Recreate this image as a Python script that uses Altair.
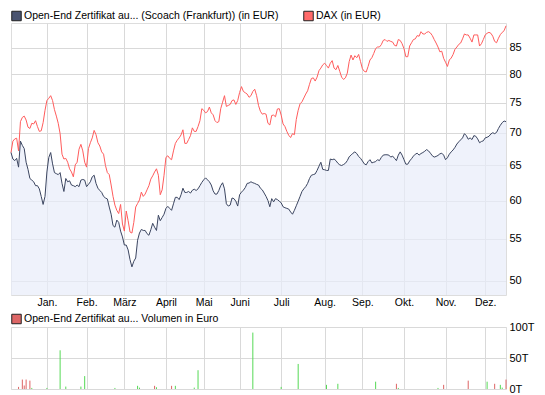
import json
import altair as alt
import pandas as pd

# ---------------- data ----------------
cert_name = "Open-End Zertifikat au... (Scoach (Frankfurt)) (in EUR)"
dax_name = "DAX (in EUR)"
vol_name = "Open-End Zertifikat au... Volumen in Euro"

# one value per trading day (index 0 .. 262)
cert = [
    66.94, 65.96, 65.72, 66.06, 64.75, 68.70, 68.04, 67.54, 65.48, 64.42,
    63.10, 62.87, 62.63, 62.08, 62.08, 61.63, 60.58, 59.48, 60.58, 64.04,
    66.20, 66.94, 65.24, 63.95, 63.80, 63.66, 63.95, 62.40, 61.26, 63.10,
    62.63, 62.77, 62.17, 62.08, 61.94, 62.17, 61.94, 62.87, 62.96, 62.87,
    61.94, 62.26, 62.63, 63.34, 63.57, 62.40, 61.72, 61.40, 61.13, 60.58,
    60.36, 60.23, 59.13, 58.17, 56.69, 56.48, 57.40, 57.10, 55.98, 55.24,
    54.23, 54.23, 53.63, 52.45, 51.60, 52.26, 52.65, 54.83, 55.73, 56.19,
    56.06, 56.06, 55.65, 55.45, 56.15, 56.98, 56.48, 56.06, 58.04, 57.32,
    57.74, 58.17, 58.95, 59.22, 58.95, 58.69, 59.57, 60.45, 60.45, 60.14,
    60.81, 61.72, 61.13, 61.13, 61.26, 61.04, 61.44, 61.58, 61.40, 61.63,
    62.08, 62.54, 62.91, 63.19, 62.91, 62.63, 62.17, 61.35, 60.90, 60.90,
    61.40, 62.08, 62.49, 61.63, 59.57, 59.26, 59.39, 60.36, 60.27, 59.92,
    59.26, 60.81, 61.17, 61.44, 61.81, 62.40, 62.45, 62.63, 62.49, 62.40,
    62.26, 62.17, 61.72, 61.49, 61.04, 60.58, 60.01, 59.17, 60.27, 59.83,
    60.27, 60.14, 59.92, 59.70, 59.17, 59.04, 58.95, 58.86, 58.47, 58.17,
    58.69, 59.30, 59.92, 60.58, 61.26, 61.63, 61.94, 62.40, 63.10, 63.57,
    63.66, 63.76, 64.27, 64.89, 65.48, 64.42, 64.37, 64.27, 64.27, 65.96,
    65.86, 65.96, 65.72, 65.33, 65.09, 64.99, 65.14, 65.33, 65.72, 66.30,
    66.55, 66.84, 67.04, 66.79, 66.35, 66.06, 65.67, 65.24, 65.09, 65.57,
    65.86, 65.38, 65.48, 65.57, 65.86, 65.72, 66.20, 66.55, 66.60, 66.60,
    66.55, 66.25, 66.40, 66.06, 65.72, 66.55, 67.04, 66.55, 65.86, 65.19,
    65.19, 65.67, 66.01, 66.40, 66.69, 66.84, 66.55, 66.79, 66.94, 67.14,
    67.39, 67.19, 66.84, 66.45, 66.25, 66.35, 66.50, 66.74, 66.84, 66.55,
    65.86, 66.15, 66.69, 67.04, 67.34, 67.74, 68.25, 68.60, 68.90, 69.21,
    69.88, 69.57, 69.00, 69.21, 68.95, 69.57, 69.47, 69.05, 68.45, 68.65,
    68.75, 69.21, 69.31, 69.47, 69.83, 70.03, 69.88, 70.08, 70.71, 71.23,
    71.66, 71.92, 71.82,
]

dax = [
    66.94, 68.70, 69.05, 69.16, 67.19, 71.82, 72.51, 72.73, 72.08, 70.92,
    70.71, 71.55, 71.44, 71.97, 71.02, 70.24, 70.34, 71.66, 73.70, 75.35,
    75.74, 76.19, 75.35, 73.81, 72.73, 71.55, 69.88, 66.69, 65.96, 66.06,
    65.48, 64.51, 64.04, 63.34, 65.09, 65.48, 67.44, 68.20, 67.19, 65.48,
    64.75, 67.54, 68.45, 69.21, 70.40, 69.72, 68.45, 67.94, 67.04, 66.69,
    64.99, 63.95, 63.66, 62.17, 60.58, 59.39, 58.69, 58.26, 59.48, 56.89,
    55.98, 58.60, 57.32, 55.86, 55.73, 57.10, 59.13, 59.61, 60.10, 61.17,
    60.58, 60.90, 61.49, 62.08, 63.01, 63.48, 64.04, 64.51, 63.57, 60.81,
    61.49, 63.57, 66.20, 66.45, 66.06, 65.86, 67.19, 68.35, 68.85, 69.21,
    69.68, 70.50, 68.35, 68.35, 68.95, 69.57, 70.81, 70.24, 70.24, 71.02,
    71.97, 73.97, 73.70, 73.27, 73.48, 74.24, 73.27, 72.94, 71.97, 71.66,
    71.82, 73.97, 75.07, 76.19, 74.35, 74.52, 74.69, 75.35, 75.46, 74.69,
    75.35, 76.75, 77.78, 76.93, 76.70, 76.47, 75.91, 76.19, 76.93, 77.32,
    76.19, 74.52, 73.54, 73.05, 73.16, 73.05, 71.55, 71.28, 72.84, 72.89,
    72.62, 73.92, 73.97, 72.89, 71.44, 71.02, 70.24, 69.62, 69.26, 69.88,
    69.72, 72.19, 73.70, 74.80, 75.13, 75.80, 76.47, 77.04, 78.19, 79.23,
    79.35, 78.77, 79.47, 80.65, 81.13, 81.73, 82.03, 81.61, 81.13, 82.03,
    82.52, 81.13, 80.83, 81.61, 80.53, 79.47, 79.06, 79.35, 80.20, 82.34,
    83.57, 82.64, 83.45, 83.07, 83.69, 82.34, 81.01, 80.53, 80.41, 81.43,
    82.64, 83.07, 83.88, 84.81, 85.12, 85.12, 85.57, 86.40, 86.58, 86.21,
    86.40, 86.21, 86.08, 85.44, 85.31, 86.58, 86.40, 85.76, 84.81, 83.26,
    83.26, 85.31, 85.95, 86.58, 86.71, 87.36, 87.23, 88.14, 87.68, 87.68,
    88.01, 88.14, 87.88, 87.36, 86.58, 85.89, 85.12, 84.19, 84.31, 82.95,
    82.22, 81.43, 82.64, 83.01, 83.69, 84.69, 85.12, 85.63, 85.89, 86.71,
    87.68, 87.49, 87.49, 86.84, 86.08, 87.49, 87.49, 87.49, 85.31, 85.76,
    86.58, 87.49, 87.82, 88.01, 87.82, 87.23, 86.21, 85.95, 86.84, 87.55,
    88.01, 88.34, 89.32,
]

# volume (thousands of euro) on the trading days where trades happened
vol_day = [4, 6, 7, 8, 10, 11, 19, 26, 29, 37, 39, 55, 67, 68, 76, 77, 85, 87,
           97, 99, 128, 143, 152, 167, 173, 193, 204, 205, 226, 229, 242, 252,
           256, 259, 260, 262]
vol_k = [3.4, 15.2, 5.6, 15.2, 13.5, 1.7, 1.7, 62.4, 3.9, 3.9, 20.8, 1.7, 5.1,
         2.2, 5.1, 2.8, 5.1, 5.1, 2.2, 30.3, 91.0, 3.4, 40.4, 6.7, 8.4, 11.8,
         8.4, 1.7, 1.7, 6.7, 13.5, 11.8, 8.4, 6.7, 2.2, 15.2]
vol_dir = ["down", "down", "down", "down", "down", "up", "up", "up", "up", "up",
           "up", "up", "up", "up", "down", "up", "down", "up", "up", "up",
           "up", "up", "up", "up", "up", "up", "down", "up", "up", "down",
           "down", "up", "down", "up", "up", "down"]

# first trading day of each month (index) and the German labels
month_days = [19, 40, 60, 82, 102, 121, 143, 166, 186, 208, 230, 251]
month_labels = ["Jan.", "Feb.", "März", "April", "Mai", "Juni", "Juli",
                "Aug.", "Sep.", "Okt.", "Nov.", "Dez."]
price_ticks = [50, 55, 60, 65, 70, 75, 80, 85]
vol_ticks = [0, 50, 100]

# ---------------- styling ----------------
FONT = "Liberation Sans"
GRID = "#d9d9d9"
CERT_LINE = "#3b4560"
CERT_SWATCH = "#4a5470"
CERT_FILL = "#e8ecf9"
DAX_LINE = "#ff5c5c"
DAX_SWATCH = "#ff6a6a"
VOL_UP = "#55d955"
VOL_DOWN = "#dd6464"
VOL_SWATCH = "#dd6666"

W = 495
H_MAIN = 272
H_VOL = 62
Y_MIN, Y_MAX = 48.4, 89.9
X_MAX = 262

df = pd.DataFrame({"day": list(range(len(cert))), "cert": cert, "dax": dax})
vdf = pd.DataFrame({"day": vol_day, "vol": vol_k, "dir": vol_dir})

label_expr = "{}[indexof({}, datum.value)]".format(
    json.dumps(month_labels, ensure_ascii=False), json.dumps(month_days))

x_scale = alt.Scale(domain=[0, X_MAX], nice=False, zero=False)
x_axis_main = alt.Axis(values=month_days, labelExpr=label_expr, grid=True,
                       gridColor=GRID, ticks=False, domain=False, title=None,
                       labelFont=FONT, labelFontSize=10.5, labelColor="#000",
                       labelPadding=2, labelFlush=False, labelOverlap=False)
x_axis_vol = alt.Axis(values=month_days, labels=False, grid=True, gridColor=GRID,
                      ticks=False, domain=False, title=None)

y_scale = alt.Scale(type="log", domain=[Y_MIN, Y_MAX], nice=False)
y_axis = alt.Axis(orient="right", values=price_ticks, grid=True, gridColor=GRID,
                  ticks=False, domain=False, title=None, labelFont=FONT,
                  labelFontSize=11, labelColor="#000", labelPadding=3,
                  labelFlush=False, labelOverlap=False)

xm = alt.X("day:Q", scale=x_scale, axis=x_axis_main)

area = alt.Chart(df).mark_area(color=CERT_FILL, opacity=0.7).encode(
    x=xm, y=alt.Y("cert:Q", scale=y_scale, axis=y_axis), y2=alt.datum(Y_MIN))
dax_line = alt.Chart(df).mark_line(color=DAX_LINE, strokeWidth=1).encode(
    x=xm, y=alt.Y("dax:Q", scale=y_scale, axis=y_axis))
cert_line = alt.Chart(df).mark_line(color=CERT_LINE, strokeWidth=1).encode(
    x=xm, y=alt.Y("cert:Q", scale=y_scale, axis=y_axis))


def legend_item(label, fill, sx, tx, y):
    d = pd.DataFrame({"label": [label]})
    sw = alt.Chart(d).mark_square(size=90, fill=fill, stroke="#222",
                                  strokeWidth=1, opacity=1).encode(
        x=alt.value(sx), y=alt.value(y))
    tx_ = alt.Chart(d).mark_text(align="left", baseline="middle", font=FONT,
                                 fontSize=10.5, color="#000").encode(
        text="label:N", x=alt.value(tx), y=alt.value(y))
    return [sw, tx_]


main = alt.layer(
    area, dax_line, cert_line,
    *legend_item(cert_name, CERT_SWATCH, 5.5, 13, -7),
    *legend_item(dax_name, DAX_SWATCH, 297.5, 305, -7),
).properties(width=W, height=H_MAIN)

bars = alt.Chart(vdf).mark_rule(strokeWidth=1).encode(
    x=alt.X("day:Q", scale=x_scale, axis=x_axis_vol),
    y=alt.Y("vol:Q", scale=alt.Scale(domain=[0, 100], nice=False),
            axis=alt.Axis(orient="right", values=vol_ticks,
                          labelExpr="datum.value + 'T'", grid=True,
                          gridColor=GRID, ticks=False, domain=False, title=None,
                          labelFont=FONT, labelFontSize=11, labelColor="#000",
                          labelPadding=3, labelFlush=False, labelOverlap=False)),
    y2=alt.datum(0),
    color=alt.Color("dir:N", scale=alt.Scale(domain=["up", "down"],
                                             range=[VOL_UP, VOL_DOWN]),
                    legend=None),
)

vol = alt.layer(
    bars, *legend_item(vol_name, VOL_SWATCH, 5.5, 13, -8)
).properties(width=W, height=H_VOL)

chart = alt.vconcat(main, vol, spacing=3, padding=0).configure_view(
    stroke=GRID, strokeWidth=1
).configure(background="white")

chart.save("out.html", embed_options={"renderer": "svg", "actions": False})
